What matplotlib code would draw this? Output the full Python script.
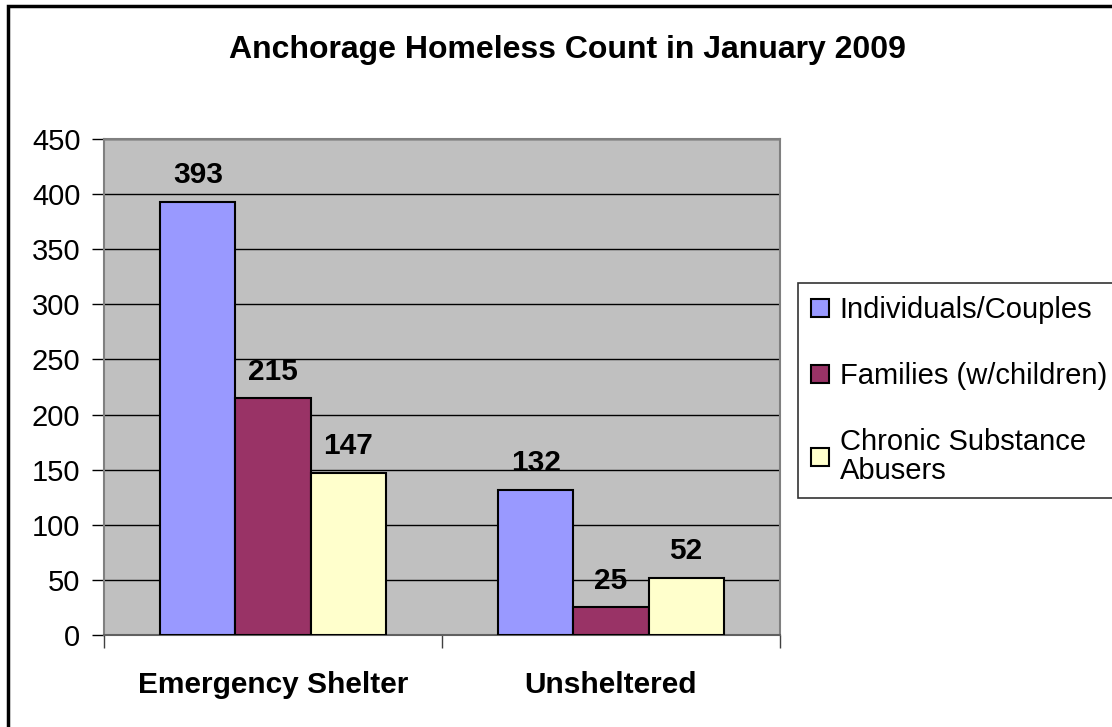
import numpy as np
import matplotlib.pyplot as plt
from matplotlib.patches import Rectangle

# ==========================
# Data
# ==========================

categories = ["Emergency Shelter", "Unsheltered"]
series_names = [
    "Individuals/Couples",
    "Families (w/children)",
    "Chronic Substance\nAbusers",
]
individuals = [393, 132]
families = [215, 25]
chronic = [147, 52]

colors = ["#9999FF", "#993366", "#FFFFCC"]

plt.rcParams["font.family"] = ["Liberation Sans", "DejaVu Sans"]

fig = plt.figure(figsize=(11.12, 7.27), dpi=100)

# outer chart border
fig.patches.append(
    Rectangle((8 / 1112, -0.01), 1.1, 1 - 6 / 727 + 0.01,
              transform=fig.transFigure, fill=False,
              edgecolor="black", linewidth=2.5)
)

ax = fig.add_axes([104 / 1112, 1 - 635 / 727, 676 / 1112, 496 / 727])
ax.set_facecolor("#C0C0C0")

x = np.arange(len(categories)) + 0.5
width = 0.222
offsets = [-width, 0, width]

for values, name, color, off in zip(
        [individuals, families, chronic], series_names, colors, offsets):
    bars = ax.bar(x + off, values, width, color=color, edgecolor="black",
                  linewidth=1.5, label=name, zorder=3)
    for bar, v in zip(bars, values):
        ax.annotate(str(v), (bar.get_x() + bar.get_width() / 2, v),
                    xytext=(0, 9), textcoords="offset points",
                    ha="center", va="bottom", fontsize=21.5,
                    fontweight="bold")

ax.set_xlim(0, 2)
ax.set_ylim(0, 450)
ax.set_yticks(np.arange(0, 451, 50))
ax.yaxis.grid(True, color="black", linewidth=1.0, zorder=0)
ax.set_axisbelow(True)

ax.set_xticks([0, 1, 2])
ax.set_xticklabels([])
ax.set_xticks(x, minor=True)
ax.set_xticklabels(categories, minor=True, fontsize=21.5, fontweight="bold")
ax.tick_params(axis="x", which="major", length=9, width=1, color="#404040")
ax.tick_params(axis="x", which="minor", length=0, pad=26)
ax.tick_params(axis="y", length=9, width=1, labelsize=21, pad=8)

for side in ["left", "top", "right"]:
    ax.spines[side].set_color("#808080")
    ax.spines[side].set_linewidth(1.5)
ax.spines["bottom"].set_color("#606060")
ax.spines["bottom"].set_linewidth(1.5)

fig.suptitle("Anchorage Homeless Count in January 2009", x=567 / 1112,
             y=1 - 50 / 727, va="center", fontsize=23, fontweight="bold")

leg = fig.legend(loc="upper left", bbox_to_anchor=(798 / 1112, 1 - 283 / 727),
                 fontsize=21, frameon=True, fancybox=False,
                 edgecolor="black", borderaxespad=0, labelspacing=1.3,
                 handlelength=0.6, handleheight=0.6, handletextpad=0.38,
                 borderpad=0.45)
leg.get_frame().set_linewidth(1.2)
for t in leg.get_texts():
    t.set_linespacing(1.05)

fig.savefig("out.png", dpi=100)
